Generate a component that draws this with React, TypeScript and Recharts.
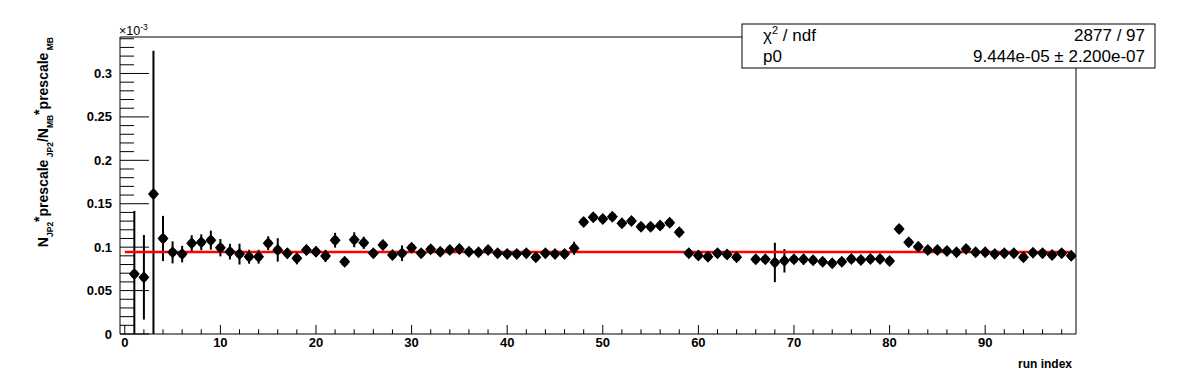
import React from 'react';
import {
  ComposedChart,
  Scatter,
  XAxis,
  YAxis,
  ErrorBar,
  ReferenceLine,
  ReferenceArea,
} from 'recharts';

// run index (bin 65 is empty)
const RUN_INDEX = [
  1, 2, 3, 4, 5, 6, 7, 8, 9, 10, 11, 12, 13, 14, 15, 16, 17, 18, 19, 20,
  21, 22, 23, 24, 25, 26, 27, 28, 29, 30, 31, 32, 33, 34, 35, 36, 37, 38, 39, 40,
  41, 42, 43, 44, 45, 46, 47, 48, 49, 50, 51, 52, 53, 54, 55, 56, 57, 58, 59, 60,
  61, 62, 63, 64, 66, 67, 68, 69, 70, 71, 72, 73, 74, 75, 76, 77, 78, 79, 80,
  81, 82, 83, 84, 85, 86, 87, 88, 89, 90, 91, 92, 93, 94, 95, 96, 97, 98, 99,
];

// ratio in units of 1e-3
const RATIO = [
  0.0691, 0.0653, 0.1613, 0.110, 0.094, 0.092, 0.1045, 0.1056, 0.108, 0.0994,
  0.0948, 0.092, 0.089, 0.089, 0.1045, 0.0968, 0.093, 0.0872, 0.0968, 0.0948,
  0.0899, 0.108, 0.0833, 0.1085, 0.105, 0.093, 0.1025, 0.091, 0.093, 0.0994,
  0.093, 0.0976, 0.0948, 0.0968, 0.0979, 0.0948, 0.0941, 0.0968, 0.093, 0.0922,
  0.0922, 0.093, 0.0884, 0.093, 0.0922, 0.0922, 0.0987, 0.129, 0.1345, 0.1325,
  0.135, 0.1275, 0.130, 0.1236, 0.1236, 0.1248, 0.1282, 0.1172, 0.093, 0.0904,
  0.089, 0.093, 0.0916, 0.0884, 0.086, 0.086, 0.0824, 0.0843, 0.086,
  0.086, 0.0849, 0.0833, 0.0814, 0.0833, 0.0864, 0.0853, 0.0864, 0.0864, 0.0841,
  0.121, 0.1056, 0.1006, 0.0968, 0.0968, 0.0956, 0.0941, 0.0979, 0.0941, 0.0941,
  0.0922, 0.093, 0.093, 0.0884, 0.0937, 0.093, 0.091, 0.093, 0.090,
];

const RATIO_ERR = [
  0.0726, 0.0487, 0.165, 0.026, 0.0127, 0.0095, 0.0092, 0.0092, 0.011, 0.010,
  0.009, 0.012, 0.008, 0.008, 0.008, 0.0135, 0.006, 0.007, 0.006, 0.006,
  0.007, 0.0085, 0.004, 0.0086, 0.007, 0.004, 0.006, 0.004, 0.009, 0.005,
  0.004, 0.005, 0.004, 0.005, 0.006, 0.004, 0.005, 0.004, 0.005, 0.004,
  0.004, 0.004, 0.004, 0.004, 0.004, 0.004, 0.0075, 0.004, 0.004, 0.004,
  0.004, 0.004, 0.004, 0.004, 0.004, 0.004, 0.004, 0.004, 0.004, 0.004,
  0.004, 0.004, 0.004, 0.004, 0.004, 0.004, 0.0227, 0.0135, 0.004,
  0.006, 0.004, 0.004, 0.004, 0.004, 0.004, 0.004, 0.004, 0.004, 0.004,
  0.004, 0.004, 0.004, 0.004, 0.004, 0.004, 0.004, 0.004, 0.004, 0.004,
  0.004, 0.004, 0.004, 0.004, 0.004, 0.004, 0.004, 0.004, 0.004,
];

const P0 = 0.09444;
const FIT_RANGE = [0, 99];
const X_DOMAIN = [-0.5, 99.5];
const Y_DOMAIN = [0, 0.342];

const X_TICKS = [
  0, 2, 4, 6, 8, 10, 12, 14, 16, 18, 20, 22, 24, 26, 28, 30, 32, 34, 36, 38,
  40, 42, 44, 46, 48, 50, 52, 54, 56, 58, 60, 62, 64, 66, 68, 70, 72, 74, 76, 78,
  80, 82, 84, 86, 88, 90, 92, 94, 96, 98,
];
const X_LABELS = ['0', '10', '20', '30', '40', '50', '60', '70', '80', '90'];

const Y_TICKS = [
  0, 0.01, 0.02, 0.03, 0.04, 0.05, 0.06, 0.07, 0.08, 0.09, 0.1, 0.11, 0.12,
  0.13, 0.14, 0.15, 0.16, 0.17, 0.18, 0.19, 0.2, 0.21, 0.22, 0.23, 0.24, 0.25,
  0.26, 0.27, 0.28, 0.29, 0.3, 0.31, 0.32, 0.33, 0.34,
];
const Y_LABELS = ['0', '0.05', '0.1', '0.15', '0.2', '0.25', '0.3'];

const FONT = '"Liberation Sans", Arial, Helvetica, sans-serif';

const data = RUN_INDEX.map((x, i) => ({
  x,
  y: RATIO[i],
  err: [Math.min(RATIO_ERR[i], RATIO[i]), RATIO_ERR[i]],
}));

const XTick = (props: any) => {
  const { x, y, payload } = props;
  const v = payload.value;
  const label = X_LABELS.find((l) => Number(l) === v);
  const len = label !== undefined ? 9 : 4.7;
  return (
    <g>
      <line x1={x} x2={x} y1={y} y2={y - len} stroke="#000" strokeWidth={1} />
      {label !== undefined && (
        <text
          x={x}
          y={y + 13}
          textAnchor="middle"
          fontFamily={FONT}
          fontWeight="bold"
          fontSize={13}
          fill="#000"
        >
          {label}
        </text>
      )}
    </g>
  );
};

const YTick = (props: any) => {
  const { x, y, payload } = props;
  const v = payload.value;
  const label = Y_LABELS.find((l) => Math.abs(Number(l) - v) < 1e-9);
  const len = label !== undefined ? 29 : 14;
  return (
    <g>
      <line x1={x} x2={x + len} y1={y} y2={y} stroke="#000" strokeWidth={1} />
      {label !== undefined && (
        <text
          x={x - 8}
          y={y + 4.5}
          textAnchor="end"
          fontFamily={FONT}
          fontWeight="bold"
          fontSize={13}
          fill="#000"
        >
          {label}
        </text>
      )}
    </g>
  );
};

const Marker = (props: any) => {
  const { cx, cy } = props;
  if (cx == null || cy == null) return null;
  return (
    <g transform={`translate(${cx},${cy})`}>
      <path d="M0,-6 L5.5,0 L0,6 L-5.5,0 Z" fill="#000" />
      <circle r={3.9} fill="#000" />
    </g>
  );
};

export default function App() {
  return (
    <div
      style={{
        position: 'absolute',
        left: 0,
        top: 0,
        width: 1196,
        height: 372,
        background: '#fff',
        overflow: 'hidden',
      }}
    >
      <div style={{ position: 'absolute', left: 0, top: 0 }}>
        <ComposedChart
          width={1196}
          height={372}
          data={data}
          margin={{ top: 37, right: 120, bottom: 0, left: 0 }}
        >
          <XAxis
            dataKey="x"
            type="number"
            domain={X_DOMAIN}
            allowDataOverflow
            ticks={X_TICKS}
            interval={0}
            tick={<XTick />}
            tickLine={false}
            axisLine={false}
            tickSize={0}
            tickMargin={0}
            height={38}
          />
          <YAxis
            dataKey="y"
            type="number"
            domain={Y_DOMAIN}
            allowDataOverflow
            ticks={Y_TICKS}
            interval={0}
            tick={<YTick />}
            tickLine={false}
            axisLine={false}
            tickSize={0}
            tickMargin={0}
            width={120}
          />
          <ReferenceArea
            x1={X_DOMAIN[0]}
            x2={X_DOMAIN[1]}
            y1={Y_DOMAIN[0]}
            y2={Y_DOMAIN[1]}
            fill="none"
            stroke="#000"
            strokeWidth={1}
            fillOpacity={0}
          />
          <Scatter
            data={data}
            dataKey="y"
            fill="#000"
            shape={<Marker />}
            isAnimationActive={false}
          >
            <ErrorBar
              dataKey="err"
              direction="y"
              width={0}
              stroke="#000"
              strokeWidth={2}
              isAnimationActive={false}
            />
          </Scatter>
          <ReferenceLine
            segment={[
              { x: FIT_RANGE[0], y: P0 },
              { x: FIT_RANGE[1], y: P0 },
            ]}
            stroke="#ff0000"
            strokeWidth={2.5}
          />
        </ComposedChart>
      </div>
      <svg
        width={1196}
        height={372}
        style={{ position: 'absolute', left: 0, top: 0, pointerEvents: 'none' }}
      >
        {/* y axis title */}
        <text
          transform="translate(48,37) rotate(-90)"
          textAnchor="end"
          fontFamily={FONT}
          fontWeight="bold"
          fontSize={14}
          fill="#000"
        >
          <tspan>N</tspan>
          <tspan dy={5} fontSize={8.5}>JP2</tspan>
          <tspan dy={-9}>*</tspan>
          <tspan dy={4}>prescale</tspan>
          <tspan dy={5} fontSize={8.5}> JP2</tspan>
          <tspan dy={-5}>/N</tspan>
          <tspan dy={5} fontSize={8.5}>MB</tspan>
          <tspan dy={-9}>*</tspan>
          <tspan dy={4}>prescale</tspan>
          <tspan dy={5} fontSize={8.5}> MB</tspan>
        </text>
        {/* exponent */}
        <text x={119} y={35} fontFamily={FONT} fontSize={12.5} fill="#000">
          ×10
          <tspan dy={-5} fontSize={8.5}>-3</tspan>
        </text>
        {/* x axis title */}
        <text
          x={1072}
          y={368}
          textAnchor="end"
          fontFamily={FONT}
          fontWeight="bold"
          fontSize={12}
          fill="#000"
        >
          run index
        </text>
        {/* stats box */}
        <rect x={742} y={24} width={413} height={44} fill="#fff" stroke="#000" strokeWidth={1} />
        <text x={763} y={41} fontFamily={FONT} fontSize={17} fill="#000">
          χ<tspan dy={-7} fontSize={11}>2</tspan>
          <tspan dy={7}> / ndf</tspan>
        </text>
        <text x={1145} y={41} textAnchor="end" fontFamily={FONT} fontSize={17} fill="#000">
          2877 / 97
        </text>
        <text x={763} y={62} fontFamily={FONT} fontSize={17} fill="#000">
          p0
        </text>
        <text x={1145} y={62} textAnchor="end" fontFamily={FONT} fontSize={17} fill="#000">
          9.444e-05 ± 2.200e-07
        </text>
      </svg>
    </div>
  );
}
